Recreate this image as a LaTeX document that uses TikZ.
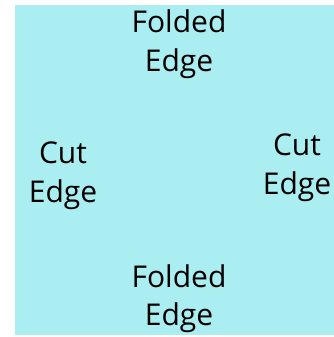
\documentclass[tikz,border=0pt]{standalone}
\usepackage{fontspec}
\setmainfont{Open Sans}
\definecolor{paper}{RGB}{170,238,241}
\begin{document}
\begin{tikzpicture}[x=1pt,y=1pt,
  lbl/.style={anchor=base,align=center,inner sep=0pt,font=\fontsize{30}{39}\selectfont}]
\useasboundingbox (0,0) rectangle (334,337);
\fill[paper] (15,2) rectangle (334,332);
\node[lbl] (top) at (179,265.3) {Folded\\Edge};
\node[lbl] (bottom) at (179,11) {Folded\\Edge};
\node[lbl] (left) at (63,134.7) {Cut\\Edge};
\node[lbl] (right) at (297,142) {Cut\\Edge};
\end{tikzpicture}
\end{document}
